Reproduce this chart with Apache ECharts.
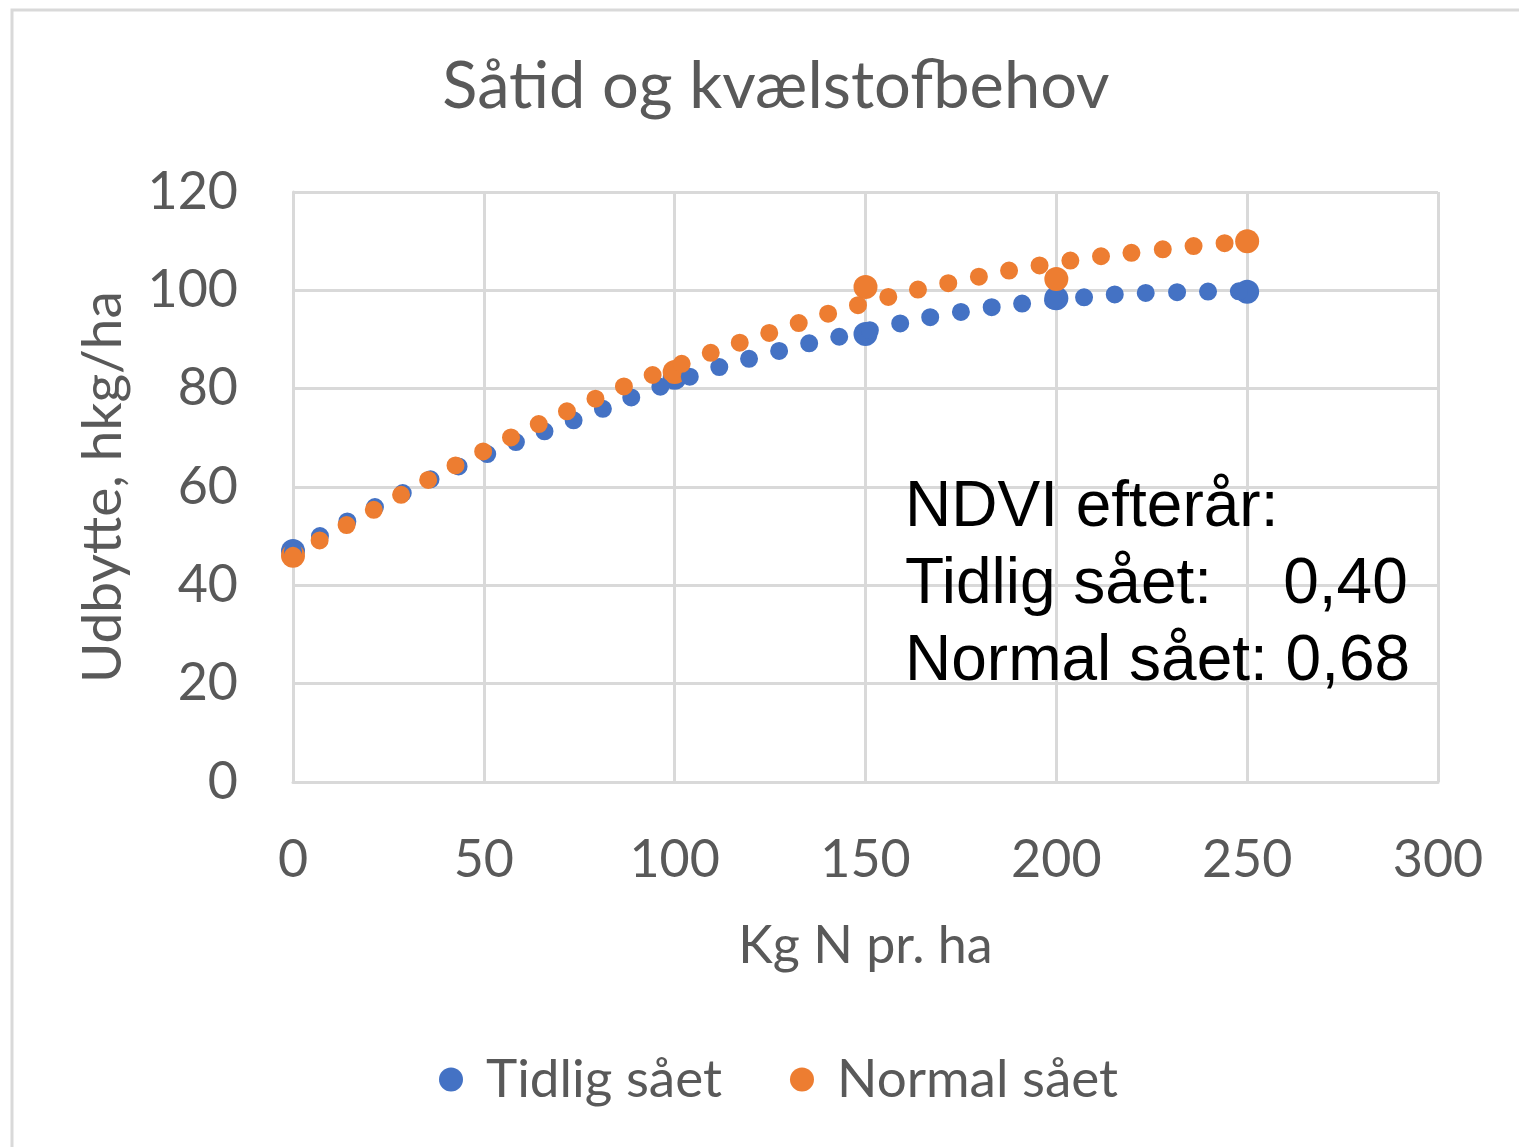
<!DOCTYPE html>
<html>
<head>
<meta charset="utf-8">
<title>Såtid og kvælstofbehov</title>
<script src="https://cdn.jsdelivr.net/npm/echarts@6/dist/echarts.min.js"></script>
<style>
  html, body { margin: 0; padding: 0; background: #fff; }
  #chart { width: 1519px; height: 1147px; }
</style>
</head>
<body>
<div id="chart"></div>
<script>
// measured points (kg N / ha -> hkg / ha)
const nLevels = [0, 100, 150, 200, 250]
const tidligSaaet = [47.0, 82.2, 91.1, 98.4, 99.7]
const normalSaaet = [46.0, 83.4, 100.7, 102.3, 110.0]

// trend lines, every 25 kg N
const trendX = [0, 25, 50, 75, 100, 125, 150, 175, 200, 225, 250]
const tidligTrend = [47.0, 57.3, 66.4, 74.0, 81.4, 87.2, 91.7, 95.6, 98.0, 99.5, 99.8]
const normalTrend = [46.0, 57.0, 67.3, 76.5, 84.5, 91.4, 97.4, 102.0, 105.6, 108.1, 110.0]

const seriesNames = ['Tidlig sået', 'Normal sået']
const noteLines = ['NDVI efterår:', 'Tidlig sået:    0,40', 'Normal sået: 0,68']

const BLUE = '#4472C4'
const ORANGE = '#ED7D31'
const GREY_TEXT = '#595959'
const GRID = '#d9d9d9'
const FONT = 'Lato'

const pairs = (xs, ys) => xs.map((x, i) => [x, ys[i]])

// excel "round dot" trendline
const trendSeries = (data, color) => ({
  type: 'line',
  data: pairs(trendX, data),
  smooth: true,
  symbol: 'none',
  silent: true,
  lineStyle: {
    color: color,
    width: 18,
    opacity: 1,
    type: [0, 31],
    cap: 'round'
  }
})

const scatterSeries = (name, data, color) => ({
  name: name,
  type: 'scatter',
  data: pairs(nLevels, data),
  symbolSize: 24,
  itemStyle: {color: color, opacity: 1}
})

const chart = echarts.init(document.getElementById('chart'), null, {renderer: 'canvas'})

const option = {
  backgroundColor: '#ffffff',
  animation: false,
  textStyle: {fontFamily: FONT},
  title: {
    text: 'Såtid og kvælstofbehov',
    left: 771,
    textAlign: 'center',
    top: 50,
    textStyle: {
      fontFamily: FONT,
      fontSize: 65,
      fontWeight: 'normal',
      color: GREY_TEXT
    }
  },
  legend: {
    data: seriesNames,
    bottom: 36,
    left: 434,
    itemGap: 68,
    itemWidth: 24,
    itemHeight: 24,
    icon: 'circle',
    itemStyle: {opacity: 1},
    textStyle: {
      fontFamily: FONT,
      fontSize: 53,
      color: GREY_TEXT,
      padding: [0, 0, 0, 18]
    }
  },
  grid: {
    left: 293,
    right: 81,
    top: 192,
    bottom: 365
  },
  xAxis: {
    type: 'value',
    min: 0,
    max: 300,
    interval: 50,
    name: 'Kg N pr. ha',
    nameLocation: 'middle',
    nameGap: 138,
    nameTextStyle: {fontFamily: FONT, fontSize: 52, color: GREY_TEXT},
    axisLine: {show: true, lineStyle: {color: GRID, width: 3}},
    axisTick: {show: false},
    axisLabel: {fontFamily: FONT, fontSize: 52, color: GREY_TEXT, margin: 52},
    splitLine: {show: true, lineStyle: {color: GRID, width: 3}}
  },
  yAxis: {
    type: 'value',
    min: 0,
    max: 120,
    interval: 20,
    name: 'Udbytte, hkg/ha',
    nameLocation: 'middle',
    nameGap: 162,
    nameTextStyle: {fontFamily: FONT, fontSize: 55, color: GREY_TEXT},
    axisLine: {show: true, lineStyle: {color: GRID, width: 3}},
    axisTick: {show: false},
    axisLabel: {fontFamily: FONT, fontSize: 52, color: GREY_TEXT, margin: 55},
    splitLine: {show: true, lineStyle: {color: GRID, width: 3}}
  },
  series: [
    scatterSeries(seriesNames[0], tidligSaaet, BLUE),
    trendSeries(tidligTrend, BLUE),
    scatterSeries(seriesNames[1], normalSaaet, ORANGE),
    trendSeries(normalTrend, ORANGE)
  ],
  graphic: [
    {
      type: 'rect',
      shape: {x: 12, y: 10, width: 1600, height: 1300},
      style: {fill: 'none', stroke: GRID, lineWidth: 3},
      silent: true,
      z: -1
    },
    {
      type: 'text',
      left: 905,
      top: 470,
      style: {
        text: noteLines.join('\n'),
        font: '64px "Liberation Sans", Arial, sans-serif',
        lineHeight: 77,
        fill: '#000000'
      },
      z: 10
    }
  ]
}

chart.setOption(option)
</script>
</body>
</html>
